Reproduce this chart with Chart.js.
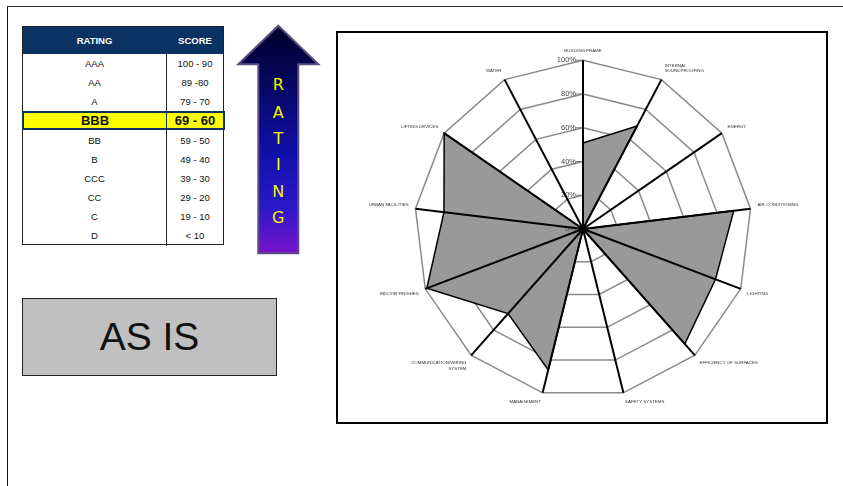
<!DOCTYPE html>
<html>
<head>
<meta charset="utf-8">
<title>Rating radar</title>
<script src="https://cdn.jsdelivr.net/npm/chart.js@4.4.1/dist/chart.umd.min.js"></script>
<style>
  body { margin: 0; width: 843px; height: 486px; position: relative; overflow: hidden; background: #fff; font-family: 'Liberation Sans', Arial, sans-serif; }
  .frame { position: absolute; left: 7px; top: 6px; width: 840px; height: 484px; border-top: 1px solid #333; border-left: 1.5px solid #111; }

  .rating { position: absolute; left: 22px; top: 26px; width: 202px; height: 219px; box-sizing: border-box; border: 1px solid #222; }
  .rating .row { display: flex; height: 19.2px; align-items: center; box-sizing: border-box; font-size: 9.5px; color: #111; }
  .rating .row > div { text-align: center; }
  .rating .c1 { width: 144px; height: 100%; display: flex; align-items: center; justify-content: center; border-right: 1px solid #222; box-sizing: border-box; }
  .rating .c2 { flex: 1; }
  .rating .head { height: 26.7px; background: #0b3262; color: #fff; font-weight: bold; }
  .rating .head .c1 { border-right-color: #0b3262; }
  .rating .hit { position: relative; left: -1px; width: 203px; background: #ffff00; font-size: 13px; font-weight: bold; border: 2px solid #0b3262; }
  .rating .hit .c1 { width: 143px; border-right: 1px solid #0b3262; }

  .arrow { position: absolute; left: 230px; top: 20px; }
  .asis { position: absolute; left: 22px; top: 298px; width: 255px; height: 78px; box-sizing: border-box; border: 1.5px solid #222; background: #c0c0c0; display: flex; align-items: center; justify-content: center; font-size: 39px; color: #111; }

  .radar-box { position: absolute; left: 336px; top: 31px; width: 492px; height: 393px; box-sizing: border-box; border: 2px solid #000; }
  #radar { position: absolute; left: 338px; top: 33px; }
</style>
</head>
<body>
<div class="frame"></div>

<div class="rating" id="rating">
  <div class="row head"><div class="c1">RATING</div><div class="c2">SCORE</div></div>
</div>

<svg class="arrow" width="100" height="240" viewBox="0 0 100 240">
  <defs>
    <linearGradient id="arrow-fill" x1="0" y1="0" x2="0" y2="1">
      <stop offset="0" stop-color="#00002a"/>
      <stop offset="0.25" stop-color="#06065e"/>
      <stop offset="0.55" stop-color="#1010a8"/>
      <stop offset="0.8" stop-color="#2a18c8"/>
      <stop offset="1" stop-color="#7a14cc"/>
    </linearGradient>
  </defs>
  <polygon points="48.3,5.7 88.3,44.3 68.3,44.3 68.3,233.3 28.3,233.3 28.3,44.3 8.3,44.3"
           fill="url(#arrow-fill)" stroke="#5d4d84" stroke-width="2"/>
  <g fill="#f2f200" font-family="'DejaVu Sans', Verdana, sans-serif" font-size="16" text-anchor="middle" dominant-baseline="central">
    <text x="48.3" y="64.3">R</text>
    <text x="48.3" y="92.3">A</text>
    <text x="48.3" y="118.3">T</text>
    <text x="48.3" y="144.3">I</text>
    <text x="48.3" y="171.7">N</text>
    <text x="48.3" y="197.7">G</text>
  </g>
</svg>

<div class="asis">AS IS</div>

<div class="radar-box"></div>
<canvas id="radar" width="488" height="389"></canvas>

<script>
// ─── Data ───
const ratings = ['AAA', 'AA', 'A', 'BBB', 'BB', 'B', 'CCC', 'CC', 'C', 'D'];
const scores = ['100 - 90', '89 -80', '79 - 70', '69 - 60', '59 - 50', '49 - 40', '39 - 30', '29 - 20', '19 - 10', '< 10'];
const currentRating = 'BBB';

const categories = [
  'BUILDING FRAME',
  ['INTERNAL', 'SOUNDPROOFING'],
  'ENERGY',
  'AIR CONDITIONING',
  'LIGHTING',
  'EFFICIENCY OF SURFACES',
  'SAFETY SYSTEMS',
  'MANAGEMENT',
  ['COMMUNICATION/WIRING', 'SYSTEM'],
  'INDOOR FINISHES',
  'URBAN FACILITIES',
  'LIFTING DEVICES',
  'WATER',
];
const values = [51, 69, 0, 90, 84, 91, 0, 86, 67, 99, 83, 100, 0];
const tickValues = [0, 20, 40, 60, 80, 100];

// ─── Rating Table ───
const table = document.getElementById('rating');
ratings.forEach((r, i) => {
  const row = document.createElement('div');
  row.className = r === currentRating ? 'row hit' : 'row';
  row.innerHTML = `<div class="c1">${r}</div><div class="c2">${scores[i].replace('<', '&lt;')}</div>`;
  table.appendChild(row);
});

// ─── Tick labels + black spokes drawn over the fill ───
const spokes = {
  id: 'spokes',
  afterDatasetsDraw(chart) {
    const r = chart.scales.r;
    const ctx = chart.ctx;
    ctx.save();

    ctx.font = "7.5px 'Liberation Sans', Arial, sans-serif";
    ctx.fillStyle = '#444';
    ctx.textAlign = 'right';
    ctx.textBaseline = 'middle';
    ctx.strokeStyle = '#777';
    ctx.lineWidth = 1;
    tickValues.forEach(v => {
      const y = r.yCenter - r.getDistanceFromCenterForValue(v);
      ctx.fillText(v + '%', r.xCenter - 7, y);
      ctx.beginPath();
      ctx.moveTo(r.xCenter - 7, y);
      ctx.lineTo(r.xCenter, y);
      ctx.stroke();
    });

    ctx.strokeStyle = '#000';
    ctx.lineWidth = 2;
    const outer = r.getDistanceFromCenterForValue(r.max);
    categories.forEach((c, i) => {
      const p = r.getPointPosition(i, outer);
      ctx.beginPath();
      ctx.moveTo(r.xCenter, r.yCenter);
      ctx.lineTo(p.x, p.y);
      ctx.stroke();
    });
    ctx.restore();
  },
};

// ─── Radar Chart ───
new Chart(document.getElementById('radar'), {
  type: 'radar',
  data: {
    labels: categories,
    datasets: [{
      data: values,
      backgroundColor: '#999999',
      borderColor: '#000',
      borderWidth: 1.5,
      pointRadius: 0,
      fill: true,
    }],
  },
  options: {
    responsive: false,
    animation: false,
    layout: { padding: { left: 2, right: 0, top: 13, bottom: 14 } },
    plugins: {
      legend: { display: false },
      tooltip: { enabled: false },
    },
    scales: {
      r: {
        min: 0,
        max: 100,
        ticks: { display: false, stepSize: 20 },
        grid: { color: '#8a8a8a', lineWidth: 1.5 },
        angleLines: { display: false },
        pointLabels: {
          padding: 7,
          color: '#333',
          font: { family: "'Liberation Sans', Arial, sans-serif", size: 4.4 },
        },
      },
    },
  },
  plugins: [spokes],
});
</script>
</body>
</html>
